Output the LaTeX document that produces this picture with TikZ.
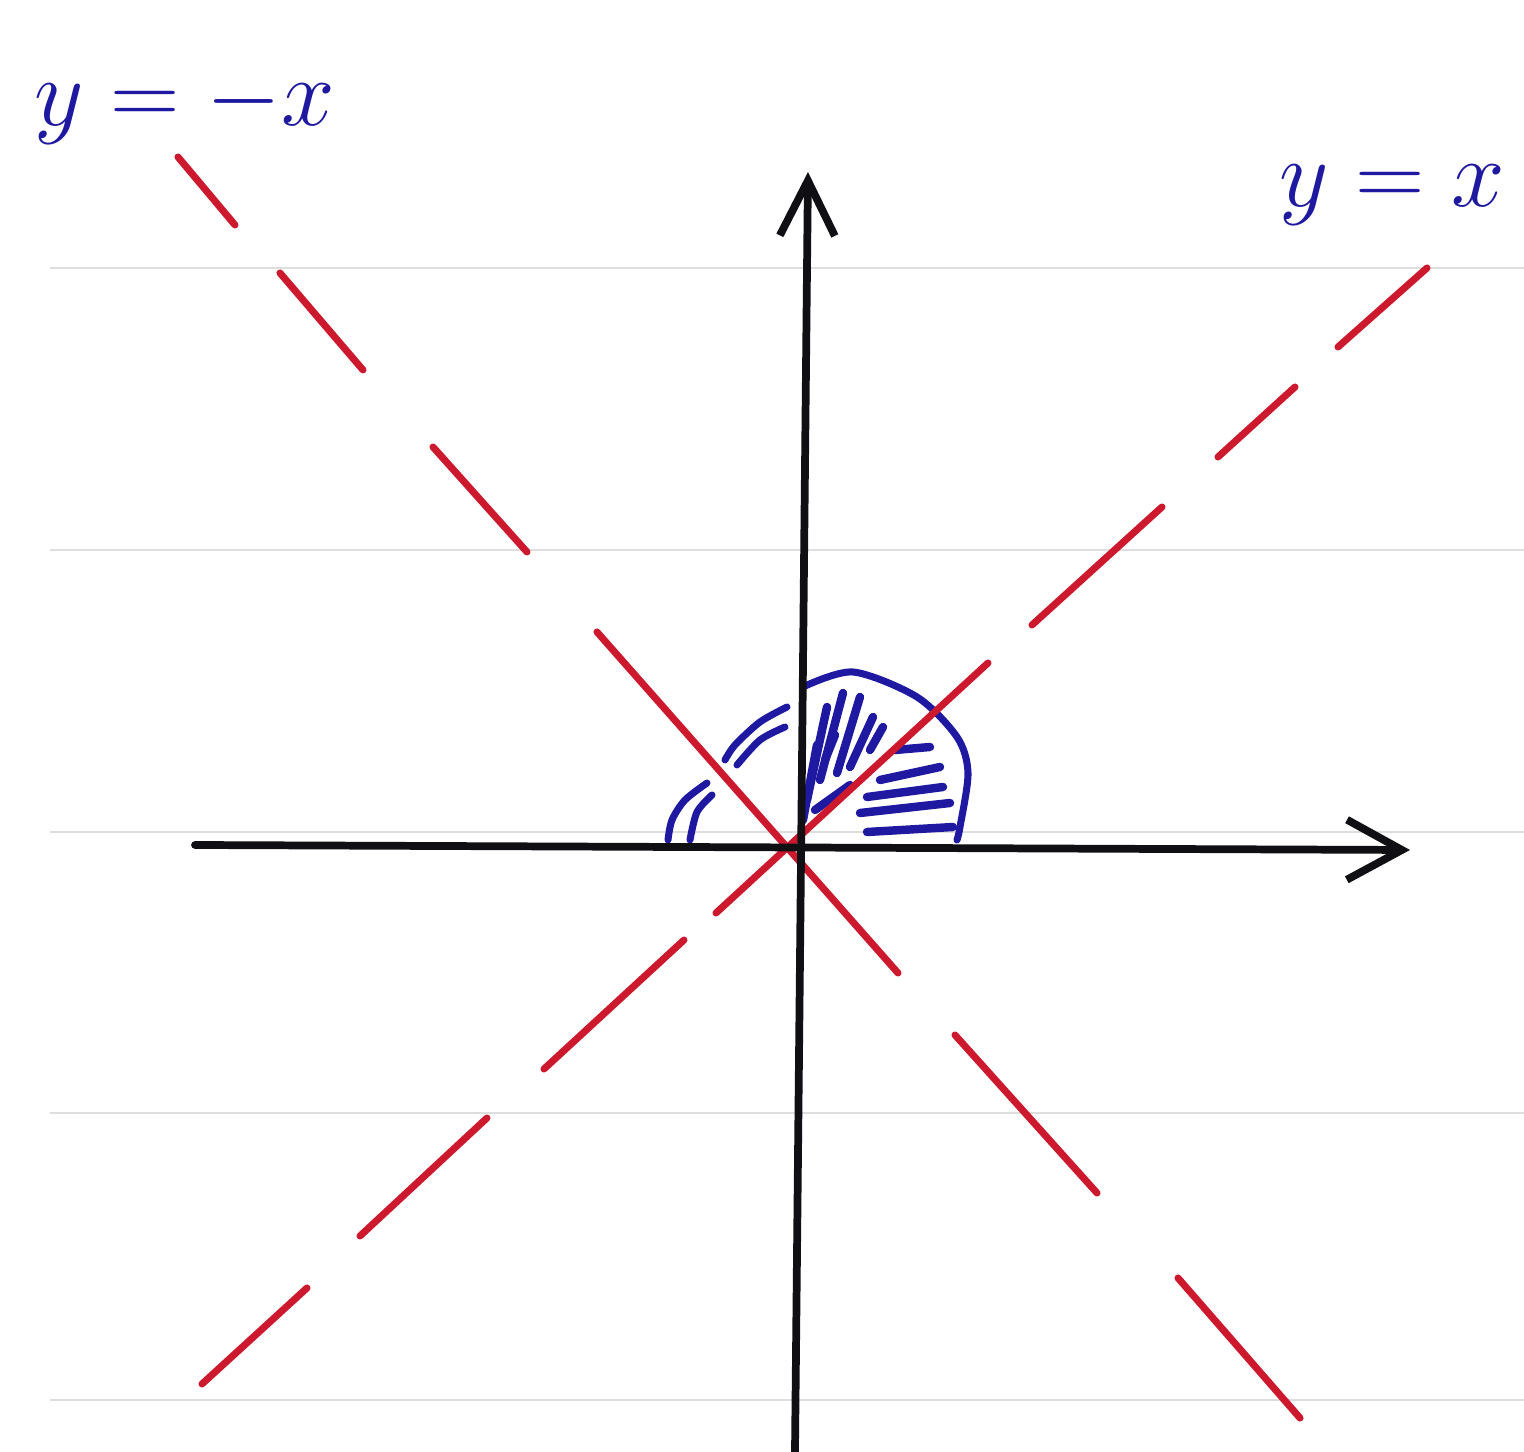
\documentclass[tikz,border=0pt]{standalone}
\usepackage{tkz-euclide}
\usetikzlibrary{arrows.meta}
\definecolor{AxisClr}{RGB}{15,15,20}
\definecolor{LineClr}{RGB}{205,25,45}
\definecolor{InkClr}{RGB}{30,25,160}
\definecolor{RuleClr}{RGB}{222,222,222}

\begin{document}
\begin{tikzpicture}
\useasboundingbox (-7.95,-6.07) rectangle (7.29,8.45);
\tkzSetUpLine[line width=2.2pt,color=AxisClr]

% ruled paper
\foreach \yy in {5.77,2.95,0.13,-2.68,-5.55}
  \draw[RuleClr,line width=0.8pt] (-7.45,\yy) -- (7.29,\yy);

\tkzDefPoints{0/0/O}

% axes
\tkzDefPoint(-6.00,0){Xa}
\tkzDefPoint(6.15,-0.05){Xb}
\tkzDefPoint(0,-6.07){Ya}
\tkzDefPoint(0.13,6.73){Yb}

% y=-x
\tkzDefPoint(-6.17,6.88){N1}\tkzDefPoint(-5.60,6.20){N2}
\tkzDefPoint(-5.15,5.72){N3}\tkzDefPoint(-4.32,4.75){N4}
\tkzDefPoint(-3.62,3.98){N5}\tkzDefPoint(-2.68,2.93){N6}
\tkzDefPoint(-1.98,2.13){N7}\tkzDefPoint(1.03,-1.28){N8}
\tkzDefPoint(1.60,-1.90){N9}\tkzDefPoint(3.02,-3.48){N10}
\tkzDefPoint(3.83,-4.33){N11}\tkzDefPoint(5.05,-5.73){N12}

% y=x
\tkzDefPoint(-5.93,-5.39){P1}\tkzDefPoint(-4.88,-4.43){P2}
\tkzDefPoint(-4.35,-3.91){P3}\tkzDefPoint(-3.08,-2.73){P4}
\tkzDefPoint(-2.51,-2.24){P5}\tkzDefPoint(-1.11,-0.95){P6}
\tkzDefPoint(-0.79,-0.68){P7}\tkzDefPoint(1.93,1.82){P8}
\tkzDefPoint(2.37,2.20){P9}\tkzDefPoint(3.67,3.38){P10}
\tkzDefPoint(4.23,3.88){P11}\tkzDefPoint(5.00,4.58){P12}
\tkzDefPoint(5.43,4.98){P13}\tkzDefPoint(6.32,5.77){P14}

\tkzDefPoint(-6.10,7.38){Ln}
\tkzDefPoint(5.97,6.50){Lp}

% shaded part
\draw[InkClr,line width=2pt,line cap=round] plot[smooth] coordinates
  {(0.08,1.58) (0.58,1.73) (1.22,1.48) (1.62,1.08) (1.73,0.72) (1.65,0.18) (1.62,0.05)};
\draw[InkClr,line width=2pt,line cap=round] plot[smooth] coordinates
  {(-0.08,1.38) (-0.35,1.23) (-0.60,1.00) (-0.70,0.85)};
\draw[InkClr,line width=2pt,line cap=round] plot[smooth] coordinates
  {(-0.10,1.18) (-0.35,1.05) (-0.58,0.80)};
\draw[InkClr,line width=2pt,line cap=round] plot[smooth] coordinates
  {(-0.88,0.62) (-1.10,0.45) (-1.23,0.25) (-1.27,0.05)};
\draw[InkClr,line width=2pt,line cap=round] plot[smooth] coordinates
  {(-0.83,0.50) (-0.98,0.33) (-1.05,0.05)};
\foreach \a/\b in {{(0.32,1.38)}/{(0.12,0.45)},{(0.48,1.52)}/{(0.25,0.65)},
    {(0.65,1.48)}/{(0.42,0.72)},{(0.78,1.28)}/{(0.55,0.78)},{(0.88,1.18)}/{(0.75,0.95)},
    {(0.85,0.65)}/{(1.45,0.78)},{(0.72,0.48)}/{(1.48,0.58)},{(0.65,0.32)}/{(1.55,0.42)},
    {(0.72,0.13)}/{(1.58,0.18)},{(0.08,0.25)}/{(0.22,1.00)},{(0.20,0.35)}/{(0.55,0.60)},
    {(0.40,1.10)}/{(0.30,0.85)},{(1.00,0.95)}/{(1.35,0.98)}}
  \draw[InkClr,line width=2.4pt,line cap=round] \a -- \b;

\tkzDrawSegments[line width=2pt,color=LineClr,line cap=round](N1,N2 N3,N4 N5,N6 N7,N8 N9,N10 N11,N12)
\tkzDrawSegments[line width=2pt,color=LineClr,line cap=round](P1,P2 P3,P4 P5,P6 P7,P8 P9,P10 P11,P12 P13,P14)

\tkzDrawSegment[-{Straight Barb[length=5.5mm,width=6mm]},line cap=round](Xa,Xb)
\tkzDrawSegment[-{Straight Barb[length=5.5mm,width=5.5mm]},line cap=round](Ya,Yb)

\node[text=InkClr,font=\Huge,scale=1.1] (LblNeg) at (Ln) {$y=-x$};
\node[text=InkClr,font=\Huge,scale=1.1] (LblPos) at (Lp) {$y=x$};

\end{tikzpicture}
\end{document}
